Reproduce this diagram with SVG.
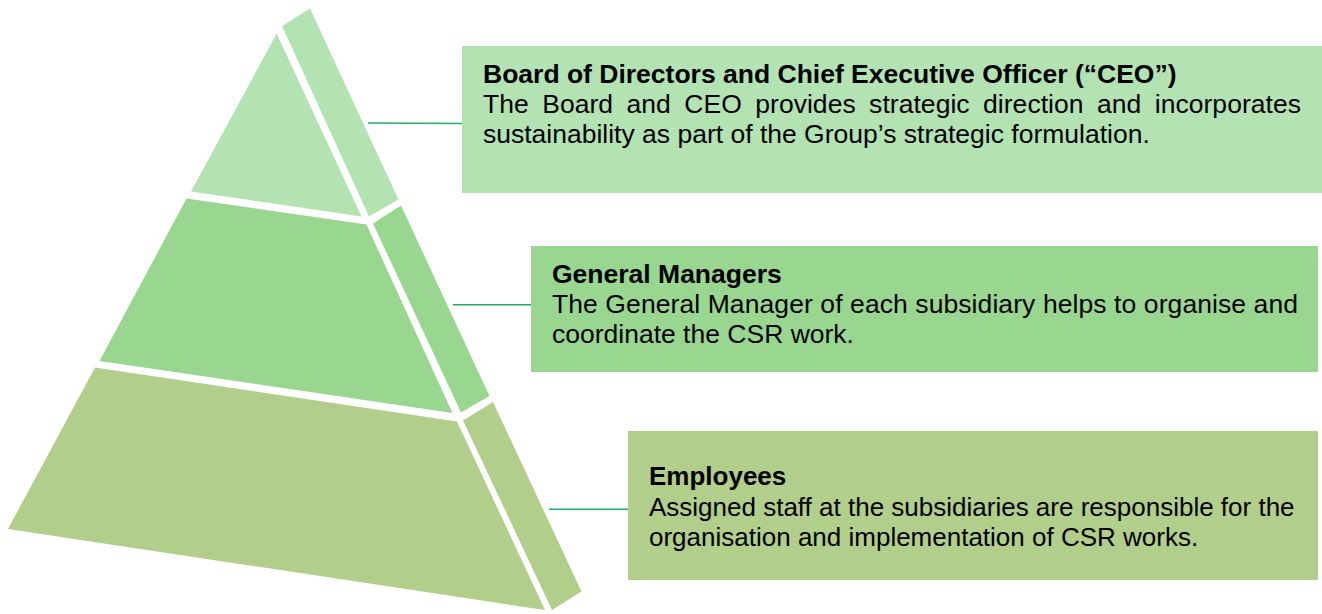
<svg xmlns="http://www.w3.org/2000/svg" width="1322" height="614" viewBox="0 0 1322 614">
  <style>
    .tier1 { fill: #B3E3B3; }
    .tier2 { fill: #99D790; }
    .tier3 { fill: #B1CE8A; }
    .label { font-family: "Liberation Sans", Arial, sans-serif; font-size: 26.5px; fill: #000; }
    .title { font-weight: bold; }
    .link { stroke: #1FAE62; stroke-width: 1.5; fill: none; }
  </style>
  <rect width="1322" height="614" fill="#FFFFFF"/>

  <!-- Pyramid tiers: front face and side face -->
  <g id="tier-top">
    <polygon class="tier1" points="276.7,33.5 361.5,216.5 191,191.5"/>
    <polygon class="tier1" points="282,26 310,8.5 398.5,199.5 369,216.5"/>
  </g>
  <g id="tier-middle">
    <polygon class="tier2" points="186.5,198.5 366.5,224.5 452.5,413 99.5,361"/>
    <polygon class="tier2" points="373,223.5 401,205.5 489.5,396 461,412.5"/>
  </g>
  <g id="tier-bottom">
    <polygon class="tier3" points="95,367.5 457,421.5 545,610 8,529"/>
    <polygon class="tier3" points="463,420.5 493,402 581.5,591.5 552,610"/>
  </g>

  <!-- Leader lines from tiers to description boxes -->
  <g id="connectors">
    <line class="link" x1="368" y1="123" x2="462" y2="123.5"/>
    <line class="link" x1="453" y1="304.7" x2="531" y2="304.7"/>
    <line class="link" x1="549" y1="509.3" x2="628" y2="509.3"/>
  </g>

  <g id="box-board">
    <rect class="tier1" x="462" y="46" width="860" height="147"/>
    <text class="label title" x="483" y="83">Board of Directors and Chief Executive Officer (“CEO”)</text>
    <text class="label" x="483" y="113" textLength="818" lengthAdjust="spacing" word-spacing="6">The Board and CEO provides strategic direction and incorporates</text>
    <text class="label" x="483" y="143">sustainability as part of the Group’s strategic formulation.</text>
  </g>

  <g id="box-managers">
    <rect class="tier2" x="531" y="246" width="787" height="126"/>
    <text class="label title" x="552" y="283">General Managers</text>
    <text class="label" x="552" y="313" textLength="746" lengthAdjust="spacing">The General Manager of each subsidiary helps to organise and</text>
    <text class="label" x="552" y="343">coordinate the CSR work.</text>
  </g>

  <g id="box-employees">
    <rect class="tier3" x="628" y="431" width="690" height="149"/>
    <text class="label title" x="649" y="484.5" style="font-size:26px">Employees</text>
    <text class="label" x="649" y="515.5" style="font-size:26px">Assigned staff at the subsidiaries are responsible for the</text>
    <text class="label" x="649" y="545.5" style="font-size:26px">organisation and implementation of CSR works.</text>
  </g>
</svg>
